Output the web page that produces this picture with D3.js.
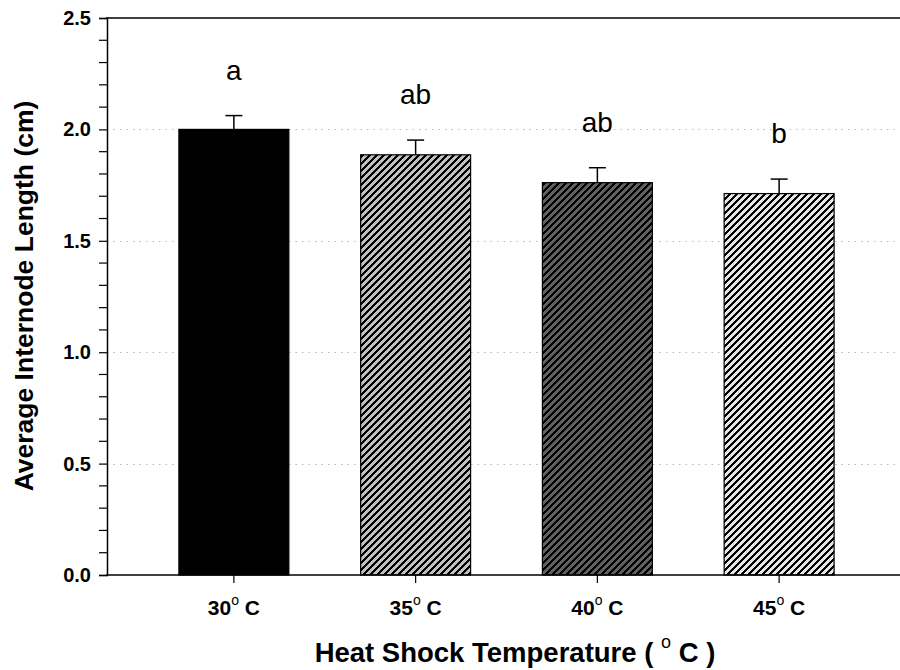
<!DOCTYPE html>
<html>
<head>
<meta charset="utf-8">
<script src="https://cdn.jsdelivr.net/npm/d3@7"></script>
<style>
  html, body { margin: 0; padding: 0; background: #fff; }
  svg { display: block; font-family: Arial, "Liberation Sans", sans-serif; }
</style>
</head>
<body>
<svg id="chart" width="900" height="670"></svg>
<script>
// Heat shock temperature treatments
const categories = ["30", "35", "40", "45"];
// Mean internode length (cm) and standard error
const means = [2.0, 1.886, 1.761, 1.712];
const errors = [0.062, 0.066, 0.067, 0.065];
// Significance letters
const letters = ["a", "ab", "ab", "b"];
const yTicks = [0.0, 0.5, 1.0, 1.5, 2.0, 2.5];
const gridValues = [0.5, 1.0, 1.5, 2.0];

const svg = d3.select("#chart");
const plotLeft = 107, plotRight = 900, plotTop = 18, plotBottom = 575;

const x = d3.scaleBand()
  .domain(categories)
  .range([143, 870])
  .paddingInner(0.395)
  .paddingOuter(0.1975);

const y = d3.scaleLinear().domain([0, 2.5]).range([plotBottom, plotTop]);

// Hatch patterns for the bars
const defs = svg.append("defs");
const fills = [
  { id: "solid", bg: "#000000", hatch: false },
  { id: "hatchLight", bg: "#c0c0c0", hatch: true, w: 2 },
  { id: "hatchDark", bg: "#606060", hatch: true, w: 2 },
  { id: "hatchPale", bg: "#e6e6e6", hatch: true, w: 1.5 }
];
fills.forEach(f => {
  if (!f.hatch) return;
  const p = defs.append("pattern")
    .attr("id", f.id)
    .attr("patternUnits", "userSpaceOnUse")
    .attr("width", 7).attr("height", 7);
  p.append("rect").attr("width", 7).attr("height", 7).attr("fill", f.bg);
  p.append("path")
    .attr("d", "M-1,1 L1,-1 M0,7 L7,0 M6,8 L8,6")
    .attr("stroke", "#000").attr("stroke-width", f.w)
    .attr("shape-rendering", "crispEdges");
});
const fillFor = i => fills[i].hatch ? `url(#${fills[i].id})` : fills[i].bg;

// Dotted grid lines
svg.append("g").selectAll("line")
  .data(gridValues).join("line")
  .attr("x1", plotLeft).attr("x2", plotRight)
  .attr("y1", d => Math.round(y(d)) + 0.5).attr("y2", d => Math.round(y(d)) + 0.5)
  .attr("stroke", "#b8b8b8").attr("stroke-width", 1)
  .attr("stroke-dasharray", "1.5,5");

// Bars
svg.append("g").selectAll("rect")
  .data(means).join("rect")
  .attr("x", (d, i) => x(categories[i]))
  .attr("y", d => y(d))
  .attr("width", x.bandwidth())
  .attr("height", d => plotBottom - y(d))
  .attr("fill", (d, i) => fillFor(i))
  .attr("stroke", "#000").attr("stroke-width", 1.2);

// Error bars (upper only)
const eb = svg.append("g").attr("stroke", "#000").attr("stroke-width", 1.5);
means.forEach((m, i) => {
  const cx = x(categories[i]) + x.bandwidth() / 2;
  eb.append("line").attr("x1", cx).attr("x2", cx).attr("y1", y(m)).attr("y2", y(m + errors[i]));
  eb.append("line").attr("x1", cx - 8.5).attr("x2", cx + 8.5)
    .attr("y1", y(m + errors[i])).attr("y2", y(m + errors[i]));
});

// Significance letters
svg.append("g").selectAll("text")
  .data(letters).join("text")
  .attr("x", (d, i) => x(categories[i]) + x.bandwidth() / 2)
  .attr("y", (d, i) => y(means[i] + errors[i]) - 36)
  .attr("text-anchor", "middle")
  .attr("font-size", 28)
  .text(d => d);

// Frame lines along top and bottom
svg.append("line").attr("x1", plotLeft - 1).attr("x2", plotRight).attr("y1", plotTop).attr("y2", plotTop)
  .attr("stroke", "#000").attr("stroke-width", 1.5);
svg.append("line").attr("x1", plotLeft - 1).attr("x2", plotRight).attr("y1", plotBottom).attr("y2", plotBottom)
  .attr("stroke", "#000").attr("stroke-width", 1.5);

// Y axis with minor ticks every 0.1
const yAxis = d3.axisLeft(y).tickValues(yTicks).tickFormat(d3.format(".1f")).tickSize(8).tickPadding(8);
const yg = svg.append("g").attr("transform", `translate(${plotLeft},0)`).call(yAxis);
yg.select(".domain").attr("stroke-width", 1.5);
yg.selectAll(".tick line").attr("stroke-width", 1.2);
yg.selectAll(".tick text").attr("font-size", 20).attr("font-weight", "bold")
  .attr("font-family", "Arial, 'Liberation Sans', sans-serif").attr("fill", "#000");
const minor = d3.range(0, 26).map(d => d / 10).filter(v => !yTicks.some(t => Math.abs(t - v) < 1e-9));
svg.append("g").selectAll("line").data(minor).join("line")
  .attr("x1", plotLeft - 8).attr("x2", plotLeft)
  .attr("y1", d => y(d)).attr("y2", d => y(d))
  .attr("stroke", "#000").attr("stroke-width", 1.2);

// X axis ticks and labels
const xg = svg.append("g");
categories.forEach(c => {
  const cx = x(c) + x.bandwidth() / 2;
  xg.append("line").attr("x1", cx).attr("x2", cx).attr("y1", plotBottom).attr("y2", plotBottom + 8)
    .attr("stroke", "#000").attr("stroke-width", 1.2);
  const t = xg.append("text").attr("x", cx).attr("y", 615)
    .attr("text-anchor", "middle").attr("font-size", 21).attr("font-weight", "bold");
  t.append("tspan").text(c);
  t.append("tspan").attr("font-size", 14).attr("font-weight", "normal").attr("dy", -10).text("o");
  t.append("tspan").attr("dy", 10).text(" C");
});

// Axis titles
const xt = svg.append("text").attr("x", 515).attr("y", 662)
  .attr("text-anchor", "middle").attr("font-size", 27.5).attr("font-weight", "bold");
xt.append("tspan").text("Heat Shock Temperature ( ");
xt.append("tspan").attr("font-size", 18).attr("font-weight", "normal").attr("dy", -14).text("o");
xt.append("tspan").attr("dy", 14).text(" C )");

svg.append("text")
  .attr("transform", "translate(33,296) rotate(-90)")
  .attr("text-anchor", "middle").attr("font-size", 26.5).attr("font-weight", "bold")
  .text("Average Internode Length (cm)");
</script>
</body>
</html>
